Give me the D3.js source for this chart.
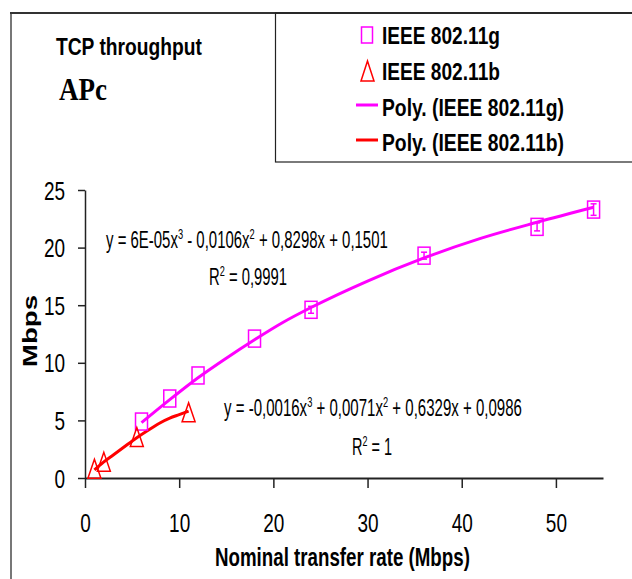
<!DOCTYPE html>
<html><head><meta charset="utf-8">
<script src="https://cdn.jsdelivr.net/npm/d3@7"></script>
<style>body{margin:0;background:#fff} svg{display:block}</style>
</head><body><svg id="c" width="632" height="579"></svg>
<script>
// ---------- data ----------
const xTicks = [0, 10, 20, 30, 40, 50];
const yTicks = [0, 5, 10, 15, 20, 25];
const gX   = [6, 9, 12, 18, 24, 36, 48, 54];
const gY   = [4.9, 6.9, 8.9, 12.1, 14.6, 19.3, 21.8, 23.3];
const gErr = [0, 0, 0, 0, 0.3, 0.3, 0.35, 0.5];
const bX   = [1, 2, 5.5, 11];
const bY   = [0.8, 1.4, 3.55, 5.7];
const gTrendX = [6, 9, 12, 15, 18, 21, 24, 30, 36, 42, 48, 54];
const gTrendY = [4.8, 6.8, 8.7, 10.4, 12.0, 13.5, 14.8, 17.1, 19.1, 20.8, 22.2, 23.5];
const bTrendX = [1, 2, 3, 4, 5.5, 7, 8, 9, 10, 11];
const bTrendY = [0.7, 1.4, 2.0, 2.6, 3.5, 4.3, 4.8, 5.2, 5.5, 5.8];
const legendLabels = ["IEEE 802.11g", "IEEE 802.11b", "Poly. (IEEE 802.11g)", "Poly. (IEEE 802.11b)"];
const eq1 = ["y = 6E-05x", "3", " - 0,0106x", "2", " + 0,8298x + 0,1501"];
const r1  = ["R", "2", " = 0,9991"];
const eq2 = ["y = -0,0016x", "3", " + 0,0071x", "2", " + 0,6329x + 0,0986"];
const r2  = ["R", "2", " = 1"];

// ---------- setup ----------
const MAG = "#ff00ff", RED = "#ff0000";
const svg = d3.select("#c");
const FONT = "'Liberation Sans', Arial, sans-serif";

// frame
svg.append("line").attr("x1",11).attr("x2",11).attr("y1",12).attr("y2",579)
  .attr("stroke","#777").attr("stroke-width",2);
svg.append("line").attr("x1",10).attr("x2",632).attr("y1",13).attr("y2",13)
  .attr("stroke","#333").attr("stroke-width",2);
// legend box
svg.append("rect").attr("x",275.5).attr("y",13).attr("width",400).attr("height",149)
  .attr("fill","none").attr("stroke","#222").attr("stroke-width",1.2);

const x = d3.scaleLinear().domain([0,55]).range([85,603]);
const y = d3.scaleLinear().domain([0,25]).range([478,190]);

// helper: place text, fitting it to a target width via horizontal scale
function fitText(parts, opts){
  const g = svg.append("g");
  const t = g.append("text").attr("font-family", opts.family || FONT)
    .attr("font-size", opts.size).attr("font-weight", opts.weight || "normal")
    .attr("fill", "#000").attr("text-anchor", opts.anchor || "start");
  if (typeof parts === "string") parts = [parts];
  parts.forEach((p,i) => {
    const sup = parts.length > 1 && i % 2 === 1;
    t.append("tspan").text(p)
      .attr("font-size", sup ? opts.size*0.62 : opts.size)
      .attr("dy", sup ? -opts.size*0.38 : (i>0 ? opts.size*0.38 : 0));
  });
  const w = t.node().getBBox().width;
  const s = opts.width / w;
  g.attr("transform", `translate(${opts.x},${opts.y}) ` + (opts.rotate ? `rotate(${opts.rotate}) ` : "") + `scale(${s},${opts.sy||1})`);
  return g;
}

// axes
const yAxis = svg.append("g").attr("transform","translate(85,0)")
  .call(d3.axisLeft(y).tickValues(yTicks).tickSize(7).tickSizeOuter(0));
const xAxis = svg.append("g").attr("transform","translate(0,478)")
  .call(d3.axisBottom(x).tickValues(xTicks).tickSize(10).tickSizeOuter(0));
[yAxis, xAxis].forEach(a => {
  a.select(".domain").attr("stroke","#222").attr("stroke-width",1.8);
  a.selectAll(".tick line").attr("stroke","#222").attr("stroke-width",1.5);
  a.selectAll(".tick text").attr("font-family",FONT).attr("font-size",25).attr("fill","#000");
});
yAxis.select(".domain").attr("stroke-width",1.5);
yAxis.selectAll(".tick text").attr("x", -20/0.76).attr("dy","0.36em")
  .attr("transform","scale(0.76,1)");
xAxis.selectAll(".tick text").attr("y", 54).attr("dy",0)
  .attr("transform","scale(0.76,1)");

// trend lines
const line = d3.line().curve(d3.curveMonotoneX).x(d=>x(d[0])).y(d=>y(d[1]));
svg.append("path").datum(gTrendX.map((v,i)=>[v,gTrendY[i]]))
  .attr("d",line).attr("fill","none").attr("stroke",MAG).attr("stroke-width",3);
svg.append("path").datum(bTrendX.map((v,i)=>[v,bTrendY[i]]))
  .attr("d",line).attr("fill","none").attr("stroke",RED).attr("stroke-width",3);

// error bars (802.11g)
const eg = svg.append("g").attr("stroke",MAG).attr("stroke-width",1.5);
gX.forEach((v,i) => {
  if (!gErr[i]) return;
  const cx = x(v), y1 = y(gY[i]-gErr[i]), y2 = y(gY[i]+gErr[i]);
  eg.append("line").attr("x1",cx).attr("x2",cx).attr("y1",y1).attr("y2",y2);
  eg.append("line").attr("x1",cx-3).attr("x2",cx+3).attr("y1",y1).attr("y2",y1);
  eg.append("line").attr("x1",cx-3).attr("x2",cx+3).attr("y1",y2).attr("y2",y2);
});

// markers
const SQW = 12, SQH = 17, TRW = 13, TRH = 19;
svg.append("g").selectAll("rect").data(gX.map((v,i)=>[v,gY[i]])).join("rect")
  .attr("x",d=>x(d[0])-SQW/2).attr("y",d=>y(d[1])-SQH/2)
  .attr("width",SQW).attr("height",SQH)
  .attr("fill","none").attr("stroke",MAG).attr("stroke-width",1.5);
const tri = (cx,cy) => `M${cx},${cy-TRH/2}L${cx+TRW/2},${cy+TRH/2}L${cx-TRW/2},${cy+TRH/2}Z`;
svg.append("g").selectAll("path").data(bX.map((v,i)=>[v,bY[i]])).join("path")
  .attr("d",d=>tri(x(d[0]),y(d[1])))
  .attr("fill","none").attr("stroke",RED).attr("stroke-width",1.5);

// equations
fitText(eq1, {x:106, y:248, size:23, width:282});
fitText(r1,  {x:209, y:285, size:23, width:78});
fitText(eq2, {x:224, y:416, size:23, width:298});
fitText(r2,  {x:352, y:455, size:23, width:40});

// axis titles
fitText("Nominal transfer rate (Mbps)", {x:215, y:566, size:25, weight:"bold", width:255});
fitText("Mbps", {x:37, y:331, size:24, weight:"bold", width:72, anchor:"middle", rotate:-90, sy:0.85});

// titles
fitText("TCP throughput", {x:56, y:55, size:24, weight:"bold", width:146});
fitText("APc", {x:59, y:100, size:31, weight:"bold", width:48, family:"'Liberation Serif', 'Times New Roman', serif"});

// legend
const rows = [35, 71, 107, 142];
const legW = [118, 118, 182, 182];
legendLabels.forEach((lab,i) => {
  fitText(lab, {x:382, y:rows[i]+8.5, size:24, weight:"bold", width:legW[i]});
});
svg.append("rect").attr("x",367-5.5).attr("y",rows[0]-8).attr("width",11).attr("height",16)
  .attr("fill","none").attr("stroke",MAG).attr("stroke-width",1.5);
svg.append("path").attr("d",`M367.5,${rows[1]-10}L374,${rows[1]+10}L361,${rows[1]+10}Z`)
  .attr("fill","none").attr("stroke",RED).attr("stroke-width",1.5);
svg.append("line").attr("x1",356).attr("x2",378).attr("y1",rows[2]-2).attr("y2",rows[2]-2)
  .attr("stroke",MAG).attr("stroke-width",3);
svg.append("line").attr("x1",356).attr("x2",378).attr("y1",rows[3]-2).attr("y2",rows[3]-2)
  .attr("stroke",RED).attr("stroke-width",3);
</script></body></html>
